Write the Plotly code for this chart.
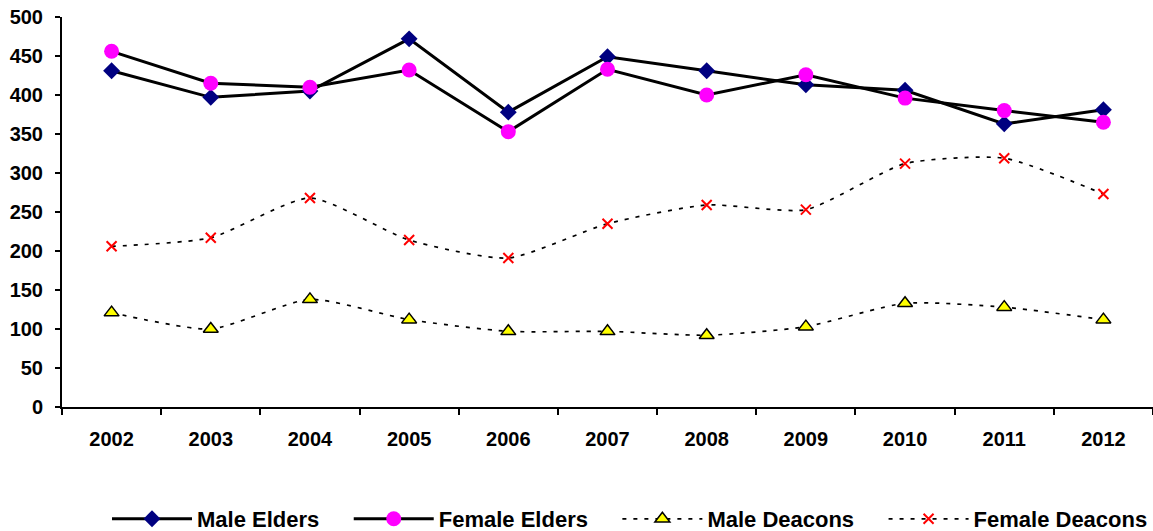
import plotly.graph_objects as go

years = ["2002", "2003", "2004", "2005", "2006", "2007", "2008", "2009", "2010", "2011", "2012"]
male_elders = [431, 397, 405, 472, 378, 449, 431, 413, 406, 363, 381]
female_elders = [456, 415, 410, 432, 353, 433, 400, 426, 396, 380, 365]
male_deacons = [121, 100, 138, 112, 97, 97, 92, 103, 133, 128, 112]
female_deacons = [206, 217, 268, 214, 191, 235, 259, 253, 312, 319, 273]
series_names = ["Male Elders", "Female Elders", "Male Deacons", "Female Deacons"]

pad = "\u00a0\u00a0\u00a0\u00a0"

fig = go.Figure()
fig.add_trace(go.Scatter(
    x=years, y=male_elders, name=series_names[0] + pad, mode="lines+markers",
    line=dict(color="black", width=3),
    marker=dict(symbol="diamond", size=13, color="#000080")))
fig.add_trace(go.Scatter(
    x=years, y=female_elders, name=series_names[1] + pad, mode="lines+markers",
    line=dict(color="black", width=3),
    marker=dict(symbol="circle", size=15, color="#FF00FF")))
fig.add_trace(go.Scatter(
    x=years, y=male_deacons, name=series_names[2] + pad, mode="lines+markers",
    line=dict(color="black", width=1.7, dash="4px,7px", shape="spline", smoothing=0.6),
    marker=dict(symbol="triangle-up", size=13, color="#FFFF00",
                line=dict(color="black", width=1.5))))
fig.add_trace(go.Scatter(
    x=years, y=female_deacons, name=series_names[3], mode="lines+markers",
    line=dict(color="black", width=1.7, dash="4px,7px", shape="spline", smoothing=0.6),
    marker=dict(symbol="x-thin", size=10, color="#FF0000",
                line=dict(color="#FF0000", width=2))))

fam = "Liberation Sans, Arial, sans-serif"
tickfont = dict(family=fam, size=20, color="black", weight="bold")

fig.update_layout(
    width=1153, height=531,
    margin=dict(l=62, r=0, t=17, b=124),
    paper_bgcolor="white", plot_bgcolor="white",
    font=dict(family=fam, size=18, color="black"),
    showlegend=True,
    legend=dict(orientation="h", x=0.042, xanchor="left",
                yref="container", y=(531 - 519) / 531, yanchor="middle",
                font=dict(family=fam, size=22, color="black", weight="bold"),
                itemwidth=80, tracegroupgap=0),
)
fig.update_xaxes(
    type="category", showgrid=False, showline=True, linecolor="black", linewidth=2,
    ticks="outside", ticklen=6, tickwidth=2, tickcolor="black", tickson="boundaries",
    tickfont=tickfont, range=[-0.5, 10.5], automargin=False, ticklabelstandoff=13,
)
fig.update_yaxes(
    range=[0, 500], dtick=50, showgrid=False, showline=True, linecolor="black", linewidth=2,
    ticks="outside", ticklen=5, tickwidth=2, tickcolor="black", zeroline=False,
    tickfont=tickfont, automargin=False, ticklabelstandoff=8,
)

fig.write_html("out.html", config={"displayModeBar": False},
               post_script="document.body.style.margin='0';")
